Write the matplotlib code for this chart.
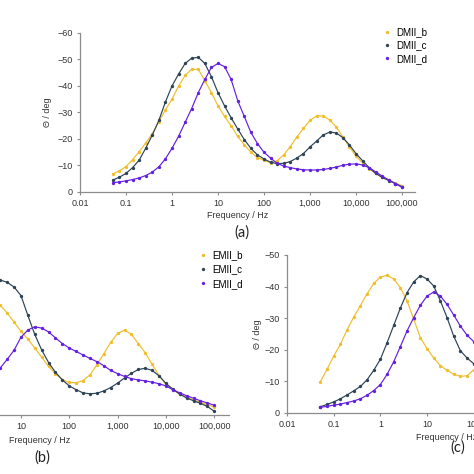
import matplotlib
matplotlib.use("Agg")
from matplotlib import pyplot as plt
from matplotlib.ticker import FixedLocator, FuncFormatter, MultipleLocator

plt.rcParams['font.family'] = ['Liberation Sans', 'DejaVu Sans']

# measured frequencies (Hz), 7 points per decade
freq = [0.0518, 0.072, 0.1, 0.139, 0.193, 0.268, 0.373, 0.518, 0.72,
        1, 1.39, 1.93, 2.68, 3.73, 5.18, 7.2,
        10, 13.9, 19.3, 26.8, 37.3, 51.8, 72,
        100, 139, 193, 268, 373, 518, 720,
        1000, 1390, 1930, 2680, 3730, 5180, 7200,
        10000, 13900, 19300, 26800, 37300, 51800, 72000, 100000]

# phase angle, deg  -- panel (a)
dmii_b = [6.8, 8.0, 9.6, 12.2, 15.2, 18.5, 22, 26.5, 31, 35, 40, 44, 46.3, 46.3, 42,
          37.5, 32.5, 28.5, 25, 21, 17.8, 15, 13, 12, 11, 11.8, 14, 17.1, 20.8, 24,
          27, 28.7, 28.7, 27.2, 24.5, 20.8, 17, 13.5, 11, 8.8, 7, 5.6, 4.5, 3.4, 2.4]
dmii_c = [4.5, 5.6, 7, 9.2, 12, 16.5, 21.5, 27, 34, 40, 44.5, 48.5, 50.5, 50.8, 48.5,
          43.5, 37.5, 32.5, 28, 23.8, 19.8, 16.5, 14, 12.5, 11.2, 10.7, 10.8, 11.5, 12.8, 14.5,
          17, 19.2, 21.5, 22.6, 22.3, 20.5, 17.8, 14.5, 11.8, 9.2, 7, 5.5, 4.3, 3.2, 2.0]
dmii_d = [3.5, 3.8, 4.2, 4.7, 5.3, 6.2, 7.5, 9.5, 12.5, 16.5, 21, 26.3, 31.5, 37.5, 42.5,
          47, 48.5, 47.3, 42.5, 34.5, 28.5, 22.5, 18.3, 15, 12.8, 10.8, 9.8, 9.2, 8.7, 8.4,
          8.3, 8.3, 8.5, 8.9, 9.4, 10.1, 10.5, 10.6, 10.2, 9.2, 7.6, 6, 4.5, 3.1, 1.8]

# panel (b)
emii_b = [12, 15, 18.5, 22, 25.5, 28.5, 31, 33, 34.5, 35.3, 35.6, 35.5, 35.2, 34.7, 32.3,
          29.4, 26.5, 24, 21.2, 18.3, 15.4, 13, 11.2, 10.3, 10.2, 10.9, 12.7, 15.9, 19.4, 23,
          25.8, 26.9, 25.5, 22.6, 19.7, 16, 12.5, 9.8, 8, 6.6, 5.6, 4.7, 4, 3.3, 2.5]
emii_c = [8, 10, 12.5, 15.5, 19, 23, 27, 31, 35, 38.5, 41, 42.8, 43.5, 42.7, 42,
          40.5, 37.8, 31.5, 25.5, 20.6, 16.6, 13.5, 11.1, 9.2, 8, 7, 6.7, 6.9, 7.6, 8.7,
          10.1, 11.7, 13.2, 14.4, 14.8, 14.1, 12.4, 10, 8.2, 6.6, 5.4, 4.5, 3.7, 2.7, 1.2]
emii_d = [3, 3.3, 3.7, 4.2, 4.8, 5.5, 6.4, 7.5, 8.8, 10.2, 11.5, 12.6, 13.4, 14.9, 17.6,
          20.5, 24.6, 26.9, 27.9, 27.5, 26.3, 24.4, 22.6, 21.2, 20.1, 19, 17.9, 16.9, 15.6, 14.1,
          13.1, 12.2, 11.5, 11.1, 10.8, 10.4, 9.9, 9.2, 8, 7, 6.1, 5.3, 4.5, 3.8, 3.1]

# panel (c)
c_b = [9.9, 13.8, 18, 21.7, 26.3, 30.3, 34, 37.7, 41, 43, 43.6, 42.4, 39.7, 35.5, 29.7,
       23.8, 20.4, 17.4, 15, 13.5, 12.3, 11.6, 11.8, 13.7, 15.5, 17, 18.5, 19.5, 20, 20,
       19.5, 18.5, 17, 15, 13, 11, 9.5, 8, 7, 6, 5.2, 4.5, 3.8, 3.2, 2.6]
c_c = [2, 2.7, 3.5, 4.5, 5.7, 7, 8.4, 10.5, 13.5, 17, 22.2, 27.7, 33.2, 38.1, 41.5,
       43.5, 42.4, 40.2, 35.5, 30.2, 24.3, 19.7, 17.4, 15.6, 14.8, 14.5, 14.5, 14.8, 15, 15,
       14.5, 13.5, 12.2, 10.8, 9.4, 8, 7, 6, 5.2, 4.5, 3.9, 3.4, 3, 2.5, 2]
c_d = [1.8, 2.1, 2.5, 2.8, 3.3, 3.8, 4.5, 5.6, 7.1, 9, 12.2, 16.2, 21, 26, 30.2,
       34.1, 37, 38.3, 37, 34.4, 31, 27.5, 24.6, 22.6, 21, 19.8, 18.8, 18, 17.2, 16.5,
       15.8, 15, 14, 13, 11.8, 10.5, 9.2, 8, 7, 6, 5.2, 4.5, 3.8, 3.1, 2.5]

colors = ['#F0BE2C', '#2D4356', '#6420E0']
xticks = [0.01, 0.1, 1, 10, 100, 1000, 10000, 100000]


def fmt_freq(v, pos):
    if v < 1:
        return f"{v:g}"
    return f"{int(round(v)):,}"


def setup(ax, ymax, xlab_pos, ylab_pos, ticks=xticks):
    ax.set_xscale('log')
    ax.set_xlim(0.01, 1.92e5)
    ax.set_ylim(0, ymax)
    ax.xaxis.set_major_locator(FixedLocator(ticks))
    ax.xaxis.set_major_formatter(FuncFormatter(fmt_freq))
    ax.xaxis.set_minor_locator(FixedLocator([]))
    ax.yaxis.set_major_locator(MultipleLocator(10))
    for s in ['top', 'right']:
        ax.spines[s].set_visible(False)
    for s in ['left', 'bottom']:
        ax.spines[s].set_color('#8c8c8c')
        ax.spines[s].set_linewidth(0.9)
    ax.tick_params(direction='out', length=2.5, width=0.8, color='#8c8c8c',
                   labelsize=6.5, labelcolor='#333333', pad=2.5)
    ax.set_xlabel('Frequency / Hz', fontsize=6.5, color='#333333')
    ax.xaxis.set_label_coords(*xlab_pos)
    if ylab_pos is not None:
        ax.set_ylabel('Θ / deg', fontsize=6.5, color='#333333')
        ax.yaxis.set_label_coords(*ylab_pos)
    ax.patch.set_alpha(0)


def draw(ax, series, labels):
    for vals, c, lab in zip(series, colors, labels):
        theta = [-v for v in vals]
        ax.plot(freq, theta, '-', color=c, lw=0.85)
        ax.plot(freq, theta, 'o', color=c, ms=2.4, mew=0, label=lab)


W = 474.0
fig = plt.figure(figsize=(4.74, 4.74), dpi=100)

# panel (a)
ax_a = fig.add_axes([80 / W, 1 - 192 / W, 335 / W, 159 / W])
draw(ax_a, [dmii_b, dmii_c, dmii_d], ['DMII_b', 'DMII_c', 'DMII_d'])
setup(ax_a, -60, (0.47, -0.12), (-0.085, 0.5))
ax_a.legend(loc='upper left', bbox_to_anchor=(383 / W, 1 - 27 / W), bbox_transform=fig.transFigure,
            frameon=False, fontsize=7, handlelength=0.8, handletextpad=0.55,
            labelspacing=0.35, borderpad=0, borderaxespad=0)

# panel (b) -- its y axis lies left of the cropped picture
ax_b = fig.add_axes([-124 / W, 1 - 415 / W, 353 / W, 158 / W])
draw(ax_b, [emii_b, emii_c, emii_d], ['EMII_b', 'EMII_c', 'EMII_d'])
setup(ax_b, -50, (0.464, -0.133), None, ticks=xticks[3:])
ax_b.set_xlim(0.01, 2.02e5)
ax_b.spines['left'].set_visible(False)
ax_b.tick_params(axis='y', left=False, labelleft=False)
ax_b.legend(loc='upper left', bbox_to_anchor=(199 / W, 1 - 250 / W), bbox_transform=fig.transFigure,
            frameon=False, fontsize=7, handlelength=0.8, handletextpad=0.55,
            labelspacing=0.45, borderpad=0, borderaxespad=0)

# panel (c) -- runs off the right edge of the picture
ax_c = fig.add_axes([287 / W, 1 - 413 / W, 340 / W, 158 / W])
draw(ax_c, [c_b, c_c, c_d], ['_b', '_c', '_d'])
setup(ax_c, -50, (0.47, -0.127), (-0.074, 0.5), ticks=xticks[:5])

for tag, x, y in [('(a)', 242, 233), ('(b)', 42, 458), ('(c)', 458, 448)]:
    fig.text(x / W, 1 - y / W, tag, ha='center', va='center', fontsize=10.5,
             family=['Lato', 'DejaVu Sans'], color='#222222')

plt.savefig('out.png', dpi=100)
